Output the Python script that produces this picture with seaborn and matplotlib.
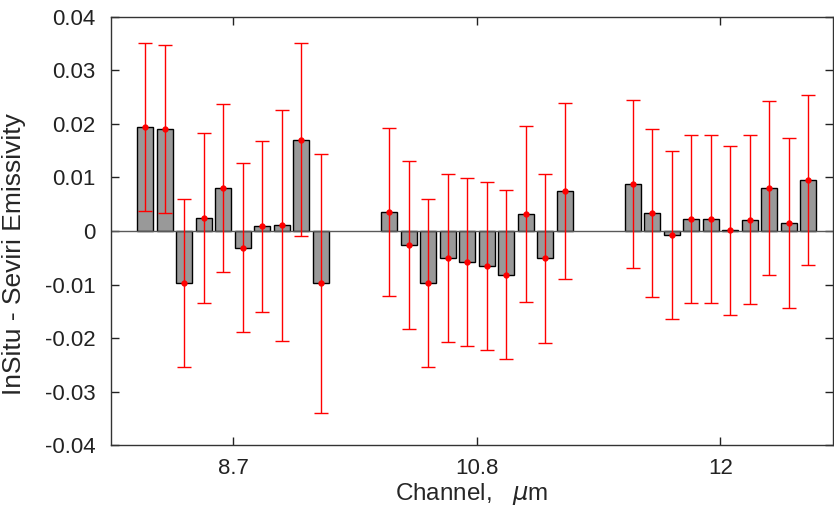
import numpy as np
import pandas as pd
import matplotlib
matplotlib.use("Agg")
import matplotlib.pyplot as plt
import seaborn as sns

# ------------------------------
# data
# ------------------------------
channels = ["8.7", "10.8", "12"]

diff_87 = [0.0194, 0.0191, -0.0098, 0.0024, 0.0080, -0.0031, 0.0009, 0.0011, 0.0171, -0.0098]
err_87 = [0.0157, 0.0157, 0.0157, 0.0159, 0.0157, 0.0158, 0.0160, 0.0216, 0.0180, 0.0242]

diff_108 = [0.0036, -0.0027, -0.0098, -0.0050, -0.0058, -0.0065, -0.0082, 0.0032, -0.0051, 0.0075]
err_108 = [0.0157, 0.0157, 0.0157, 0.0157, 0.0157, 0.0157, 0.0158, 0.0165, 0.0158, 0.0165]

diff_12 = [0.0087, 0.0034, -0.0007, 0.0022, 0.0022, 0.0001, 0.0021, 0.0080, 0.0015, 0.0096]
err_12 = [0.0157, 0.0157, 0.0157, 0.0157, 0.0157, 0.0158, 0.0158, 0.0163, 0.0158, 0.0159]

groups = [diff_87, diff_108, diff_12]
errors = [err_87, err_108, err_12]

# ------------------------------
# layout of bars
# ------------------------------
group_step = 12.5
rows = []
for g, (vals, errs) in enumerate(zip(groups, errors)):
    for i, (v, e) in enumerate(zip(vals, errs)):
        rows.append({"pos": g * group_step + i, "diff": v, "err": e})
df = pd.DataFrame(rows)
centers = [g * group_step + (len(groups[g]) - 1) / 2 for g in range(len(groups))]

sns.set_style("ticks")
plt.rcParams["font.family"] = ["Liberation Sans", "DejaVu Sans"]
plt.rcParams["mathtext.fontset"] = "dejavusans"

fig = plt.figure(figsize=(8.34, 5.18), dpi=100)
ax = fig.add_axes([0.1331, 0.1409, 0.8657, 0.8263])

sns.barplot(data=df, x="pos", y="diff", native_scale=True, width=0.82,
            color="#999999", saturation=1, edgecolor="black", linewidth=1,
            errorbar=None, ax=ax)

ax.errorbar(df["pos"], df["diff"], yerr=df["err"], fmt="o", color="red",
            ecolor="red", markersize=3.5, elinewidth=1, capsize=5, capthick=1,
            zorder=5)

ax.axhline(0, color="0.35", lw=1, zorder=1.5)

ax.set_xlim(-1.76, 35.27)
ax.set_ylim(-0.04, 0.04)
ax.set_xticks(centers)
ax.set_xticklabels(channels)
yt = np.arange(-0.04, 0.0401, 0.01)
ax.set_yticks(yt)
ax.set_yticklabels(["0" if abs(t) < 1e-9 else f"{t:.2f}" for t in yt])

ax.tick_params(direction="in", top=True, right=True, length=6, width=1,
               labelsize=16, colors="#222222")
ax.tick_params(axis="y", pad=11)
ax.tick_params(axis="x", pad=9)
for s in ax.spines.values():
    s.set_linewidth(1)
    s.set_color("#333333")

ax.set_xlabel(r"Channel,   $\mu$m", fontsize=17.5, labelpad=2)
ax.set_ylabel("InSitu - Seviri Emissivity", fontsize=19, labelpad=7)
ax.yaxis.set_label_coords(-0.118, 0.445)

fig.savefig("out.png", dpi=100)
